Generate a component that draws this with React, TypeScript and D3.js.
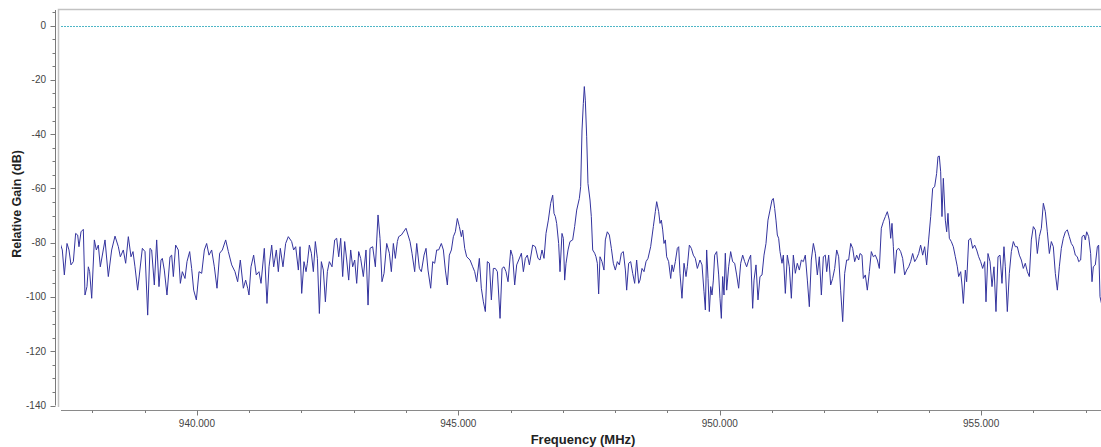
import React from 'react';
import * as d3 from 'd3';

type Pt = [number, number]; // [frequency MHz, relative gain dB]

const TRACE_937_940: Pt[] = [
  [937.381,-80.0],[937.425,-82.7],[937.464,-91.9],[937.515,-80.3],[937.553,-82.7],[937.591,-88.2],[937.636,-87.0],[937.680,-76.6],[937.719,-77.2],[937.744,-81.5],[937.783,-76.0],[937.827,-75.1],[937.859,-99.3],[937.897,-96.2],[937.923,-88.9],[937.948,-90.7],[937.987,-100.5],[938.038,-79.0],[938.076,-82.7],[938.114,-80.9],[938.152,-88.9],[938.242,-79.0],[938.305,-92.5],[938.369,-82.7],[938.433,-77.6],[938.497,-81.5],[938.535,-85.2],[938.592,-82.7],[938.637,-87.6],[938.688,-77.8],[938.739,-85.2],[938.777,-83.3],[938.815,-88.9],[938.866,-97.5],[938.956,-82.1],[939.007,-83.3],[939.058,-106.7],[939.102,-82.1],[939.134,-82.7],[939.185,-95.6],[939.230,-79.0],[939.274,-96.2],[939.313,-86.4],[939.338,-85.8],[939.376,-90.1],[939.427,-99.3],[939.485,-85.2],[939.517,-84.6],[939.549,-92.5],[939.593,-80.9],[939.644,-82.7],[939.683,-95.0],[939.721,-90.7],[939.772,-93.2],[939.810,-87.0],[939.861,-83.3],[939.899,-89.5],[939.938,-97.5],[939.989,-101.1]
];

const TRACE_940_942: Pt[] = [
  [940.040,-90.7],[940.091,-91.3],[940.142,-82.7],[940.186,-80.3],[940.231,-84.6],[940.282,-82.7],[940.333,-88.9],[940.384,-96.8],[940.435,-83.9],[940.486,-82.7],[940.550,-79.0],[940.601,-83.3],[940.665,-88.2],[940.728,-90.7],[940.779,-94.4],[940.830,-86.4],[940.888,-96.8],[940.932,-93.8],[940.971,-96.8],[940.996,-99.3],[941.034,-88.9],[941.085,-84.6],[941.136,-91.9],[941.187,-90.7],[941.226,-95.0],[941.289,-82.1],[941.340,-102.4],[941.379,-88.9],[941.430,-80.9],[941.468,-88.9],[941.519,-82.7],[941.557,-90.7],[941.595,-82.1],[941.646,-88.9],[941.697,-80.3],[941.748,-77.8],[941.812,-79.6],[941.850,-82.7],[941.889,-81.5],[941.940,-90.1],[941.972,-81.5]
];

const TRACE_942_946: Pt[] = [
  [942.004,-98.7],[942.048,-87.0],[942.087,-90.7],[942.112,-87.6],[942.150,-80.9],[942.189,-83.9],[942.227,-90.7],[942.265,-79.6],[942.304,-85.8],[942.342,-106.1],[942.380,-87.0],[942.418,-90.1],[942.457,-101.8],[942.495,-90.7],[942.533,-87.0],[942.584,-88.9],[942.635,-79.0],[942.673,-78.4],[942.712,-85.2],[942.750,-78.4],[942.788,-92.5],[942.826,-79.6],[942.865,-86.4],[942.903,-93.8],[942.941,-82.7],[942.979,-88.9],[943.018,-86.4],[943.056,-95.0],[943.094,-83.3],[943.132,-85.8],[943.183,-92.5],[943.234,-82.7],[943.273,-103.0],[943.311,-82.1],[943.362,-81.5],[943.413,-88.9],[943.464,-69.8],[943.502,-78.4],[943.540,-94.4],[943.579,-91.3],[943.630,-80.3],[943.681,-83.9],[943.719,-90.7],[943.757,-80.3],[943.795,-85.8],[943.834,-79.6],[943.859,-77.8],[943.910,-77.2],[943.999,-74.7],[944.076,-79.6],[944.114,-83.9],[944.165,-90.7],[944.204,-80.3],[944.255,-89.5],[944.293,-90.7],[944.344,-84.6],[944.382,-82.1],[944.420,-90.1],[944.471,-96.8],[944.510,-87.0],[944.548,-87.6],[944.586,-82.7],[944.624,-82.7],[944.675,-80.3],[944.714,-82.7],[944.752,-90.1],[944.790,-95.6],[944.828,-84.6],[944.867,-82.7],[944.905,-77.8],[944.943,-76.0],[944.981,-71.1],[945.020,-74.1],[945.058,-77.8],[945.083,-75.4],[945.122,-82.1],[945.160,-85.2],[945.224,-86.4],[945.275,-88.9],[945.313,-90.7],[945.351,-94.4],[945.402,-85.8],[945.440,-96.8],[945.479,-101.8],[945.517,-105.4],[945.555,-87.0],[945.594,-87.6],[945.632,-101.1],[945.670,-89.5],[945.708,-89.5],[945.747,-90.7],[945.798,-107.9],[945.836,-89.5],[945.874,-88.9],[945.912,-90.7],[945.951,-94.4],[946.002,-82.7],[946.040,-85.2],[946.078,-95.6],[946.116,-88.2],[946.155,-86.4],[946.206,-83.9],[946.244,-90.7],[946.282,-85.8],[946.320,-84.6],[946.359,-88.2]
];

const TRACE_946_948: Pt[] = [
  [946.422,-80.9],[946.473,-81.5],[946.524,-85.8],[946.562,-86.4],[946.601,-82.7],[946.639,-85.8],[946.677,-76.6],[946.722,-71.7],[946.766,-65.5],[946.805,-62.5],[946.830,-69.2],[946.856,-70.4],[946.881,-72.9],[946.919,-80.3],[946.945,-90.7],[946.983,-76.6],[947.009,-78.4],[947.034,-93.8],[947.060,-87.6],[947.098,-82.7],[947.136,-79.6],[947.187,-79.0],[947.225,-74.1],[947.264,-68.0],[947.315,-63.7],[947.340,-59.4],[947.366,-38.5],[947.391,-28.7],[947.410,-22.5],[947.429,-27.5],[947.455,-41.0],[947.480,-58.2],[947.519,-64.3],[947.544,-70.4],[947.570,-82.7],[947.608,-83.9],[947.633,-85.2],[947.659,-87.6],[947.684,-98.9],[947.710,-85.2],[947.748,-87.0],[947.786,-90.1],[947.812,-79.0],[947.850,-76.0],[947.889,-77.2],[947.927,-82.1],[947.965,-87.6],[948.003,-90.1],[948.042,-87.0],[948.080,-88.2],[948.118,-83.9],[948.156,-83.3],[948.195,-90.1],[948.220,-97.5],[948.258,-87.6],[948.297,-87.0],[948.335,-91.3],[948.373,-95.0],[948.411,-86.4],[948.450,-95.0]
];

const TRACE_948_952: Pt[] = [
  [948.475,-93.8],[948.513,-89.5],[948.552,-90.7],[948.590,-87.0],[948.628,-85.8],[948.679,-81.5],[948.730,-74.1],[948.768,-68.6],[948.794,-64.9],[948.832,-68.6],[948.858,-72.9],[948.883,-71.7],[948.909,-75.3],[948.934,-80.3],[948.960,-79.0],[948.985,-85.2],[949.023,-87.0],[949.062,-93.2],[949.087,-88.2],[949.113,-90.7],[949.151,-87.0],[949.189,-82.1],[949.215,-81.5],[949.240,-91.3],[949.278,-100.5],[949.317,-87.6],[949.355,-92.5],[949.380,-88.9],[949.419,-80.9],[949.457,-82.1],[949.495,-84.6],[949.533,-85.8],[949.572,-89.5],[949.623,-86.4],[949.661,-88.2],[949.699,-98.1],[949.725,-104.8],[949.750,-82.7],[949.776,-93.2],[949.801,-105.4],[949.827,-96.2],[949.852,-99.3],[949.878,-93.8],[949.903,-84.6],[949.942,-83.3],[949.980,-91.9],[950.005,-100.5],[950.031,-107.9],[950.056,-92.5],[950.082,-99.3],[950.107,-83.9],[950.133,-97.5],[950.171,-88.9],[950.209,-83.3],[950.247,-87.0],[950.286,-87.6],[950.324,-91.9],[950.362,-96.8],[950.401,-87.6],[950.439,-84.6],[950.477,-87.0],[950.515,-88.9],[950.554,-86.4],[950.592,-84.6],[950.630,-104.2],[950.656,-93.8],[950.694,-88.2],[950.732,-101.1],[950.770,-92.5],[950.809,-91.9],[950.847,-84.6],[950.885,-80.3],[950.923,-71.7],[950.962,-68.0],[951.000,-64.3],[951.025,-63.7],[951.051,-67.4],[951.076,-71.7],[951.102,-77.2],[951.127,-78.4],[951.153,-83.3],[951.191,-87.6],[951.217,-84.6],[951.255,-98.7],[951.293,-84.6],[951.331,-88.9],[951.370,-100.5],[951.408,-84.6],[951.446,-91.3],[951.484,-87.6],[951.523,-90.1],[951.561,-86.4],[951.599,-87.0],[951.637,-84.6],[951.676,-93.8],[951.714,-103.6],[951.752,-86.4],[951.791,-80.3],[951.829,-83.9],[951.867,-91.9],[951.905,-85.2],[951.944,-99.3],[951.982,-85.2],[952.020,-84.6],[952.046,-90.7],[952.084,-84.6],[952.122,-95.6],[952.160,-93.2],[952.199,-89.5],[952.237,-82.7],[952.275,-85.2],[952.313,-97.5],[952.352,-109.1],[952.390,-91.3],[952.428,-86.4],[952.466,-86.4],[952.505,-80.3],[952.543,-82.1],[952.581,-87.0],[952.619,-84.6],[952.658,-86.4]
];

const TRACE_952_958: Pt[] = [
  [952.683,-84.0],[952.721,-84.6],[952.747,-93.2],[952.785,-91.9],[952.823,-97.5],[952.862,-90.7],[952.900,-83.3],[952.938,-85.2],[952.976,-84.6],[953.015,-86.4],[953.053,-89.5],[953.091,-74.7],[953.129,-72.3],[953.168,-70.4],[953.206,-68.6],[953.244,-71.7],[953.270,-78.4],[953.295,-72.9],[953.321,-81.5],[953.346,-91.3],[953.384,-82.7],[953.423,-82.1],[953.461,-83.3],[953.499,-85.8],[953.537,-91.9],[953.576,-90.1],[953.614,-88.9],[953.652,-87.0],[953.690,-84.0],[953.729,-87.0],[953.767,-85.8],[953.805,-84.0],[953.843,-80.9],[953.882,-84.6],[953.920,-81.5],[953.958,-88.2],[953.996,-79.0],[954.035,-70.4],[954.073,-60.0],[954.111,-59.4],[954.149,-54.5],[954.175,-48.3],[954.200,-48.1],[954.226,-53.9],[954.251,-70.4],[954.277,-56.3],[954.315,-71.7],[954.341,-76.0],[954.366,-69.2],[954.392,-78.4],[954.430,-79.6],[954.468,-81.5],[954.507,-85.2],[954.545,-88.9],[954.570,-92.5],[954.609,-90.7],[954.634,-95.6],[954.660,-102.4],[954.698,-90.1],[954.723,-94.4],[954.762,-79.0],[954.800,-78.4],[954.838,-82.1],[954.876,-80.9],[954.915,-82.7],[954.953,-85.2],[954.991,-87.0],[955.029,-89.5],[955.068,-87.0],[955.093,-101.8],[955.131,-84.0],[955.170,-87.0],[955.208,-96.2],[955.246,-88.9],[955.284,-105.4],[955.323,-85.2],[955.361,-84.6],[955.399,-95.0],[955.437,-81.5],[955.463,-88.9],[955.501,-105.4],[955.539,-91.3],[955.578,-83.3],[955.616,-79.6],[955.654,-81.5],[955.692,-81.5],[955.731,-84.6],[955.769,-86.4],[955.807,-89.5],[955.845,-87.6],[955.884,-90.7],[955.922,-92.5],[955.960,-79.0],[955.999,-74.1],[956.037,-75.3],[956.075,-84.0],[956.113,-77.8],[956.152,-74.7],[956.190,-65.5],[956.228,-68.6],[956.266,-76.0],[956.305,-84.0],[956.343,-79.6],[956.381,-81.5],[956.419,-91.3],[956.458,-97.5],[956.496,-88.9],[956.534,-82.1],[956.572,-78.4],[956.611,-76.0],[956.649,-75.3],[956.687,-77.8],[956.725,-80.3],[956.764,-81.5],[956.802,-84.6],[956.840,-85.2],[956.866,-87.0],[956.904,-86.4],[956.930,-77.8],[956.968,-77.2],[956.993,-79.0],[957.019,-76.0],[957.057,-77.8],[957.095,-84.0],[957.121,-94.4],[957.146,-88.9],[957.184,-88.2],[957.223,-81.5],[957.248,-80.9],[957.274,-99.9],[957.320,-104.0]
];

const X_MAJOR_TICKS = [940, 945, 950, 955];
const X_MINOR_TICKS = [938, 939, 941, 942, 943, 944, 946, 947, 948, 949, 951, 952, 953, 954, 956, 957];
const Y_MAJOR_TICKS = [0, -20, -40, -60, -80, -100, -120, -140];
const Y_MINOR_TICKS = [5, -5, -10, -15, -25, -30, -35, -45, -50, -55, -65, -70, -75, -85, -90, -95, -105, -110, -115, -125, -130, -135];
const REFERENCE_LEVEL = 0;
const X_TITLE = 'Frequency (MHz)';
const Y_TITLE = 'Relative Gain (dB)';

const W = 1101;
const H = 447;
const FONT = "'Liberation Sans', Arial, sans-serif";

export default function App() {
  const x = d3.scaleLinear().domain([937.4, 957.4]).range([61, 1106.6]);
  const y = d3.scaleLinear().domain([-140, 0]).range([405.5, 25.5]);
  const data: Pt[] = [
    ...TRACE_937_940, ...TRACE_940_942, ...TRACE_942_946,
    ...TRACE_946_948, ...TRACE_948_952, ...TRACE_952_958,
  ];
  const line = d3.line<Pt>().x(d => x(d[0])).y(d => y(d[1]));
  const plotLeft = 61;
  const plotRight = W;
  const axisY = 410.5;
  const axisX = 55.5;

  return (
    <svg width={W} height={H} style={{ position: 'absolute', left: 0, top: 0, background: '#fff' }}>
      <defs>
        <clipPath id="plotClip">
          <rect x={plotLeft} y={9} width={plotRight - plotLeft} height={400} />
        </clipPath>
      </defs>
      <rect x={0} y={0} width={W} height={H} fill="#fff" />
      {/* plot frame (left + top edges) */}
      <path d={`M58.5,407 V9.5 H${W}`} fill="none" stroke="#c2c2c2" strokeWidth={1.5} />
      {/* reference 0 dB line */}
      <line x1={plotLeft} x2={plotRight} y1={Math.round(y(REFERENCE_LEVEL)) + 0.5} y2={Math.round(y(REFERENCE_LEVEL)) + 0.5}
        stroke="#4fb6c6" strokeWidth={1} strokeDasharray="2,1" />
      {/* trace */}
      <path d={line(data) || ''} fill="none" stroke="#34349e" strokeWidth={1} clipPath="url(#plotClip)" strokeLinejoin="round" />
      {/* Y axis */}
      <line x1={axisX} x2={axisX} y1={10} y2={y(-140)} stroke="#7a7a7a" strokeWidth={1} />
      {Y_MINOR_TICKS.map(t => (
        <line key={'ym' + t} x1={axisX - 3} x2={axisX} y1={Math.round(y(t)) + 0.5} y2={Math.round(y(t)) + 0.5} stroke="#7a7a7a" />
      ))}
      {Y_MAJOR_TICKS.map(t => (
        <g key={'yM' + t}>
          <line x1={axisX - 5} x2={axisX} y1={Math.round(y(t)) + 0.5} y2={Math.round(y(t)) + 0.5} stroke="#7a7a7a" />
          <text x={46} y={y(t)} dy="0.35em" textAnchor="end" fontFamily={FONT} fontSize={10} fill="#444">{String(t)}</text>
        </g>
      ))}
      {/* X axis */}
      <line x1={plotLeft} x2={plotRight} y1={axisY} y2={axisY} stroke="#8a8a8a" strokeWidth={1} />
      {X_MINOR_TICKS.map(t => (
        <line key={'xm' + t} x1={Math.round(x(t)) + 0.5} x2={Math.round(x(t)) + 0.5} y1={axisY} y2={axisY + 2.5} stroke="#7a7a7a" />
      ))}
      {X_MAJOR_TICKS.map(t => (
        <g key={'xM' + t}>
          <line x1={Math.round(x(t)) + 0.5} x2={Math.round(x(t)) + 0.5} y1={axisY} y2={axisY + 5} stroke="#7a7a7a" />
          <text x={x(t)} y={427} textAnchor="middle" fontFamily={FONT} fontSize={10} fill="#444">{d3.format('.3f')(t)}</text>
        </g>
      ))}
      {/* titles */}
      <text x={583} y={444} textAnchor="middle" fontFamily={FONT} fontSize={13} fontWeight="bold" fill="#222">{X_TITLE}</text>
      <text transform="translate(20.5,204) rotate(-90)" textAnchor="middle" fontFamily={FONT} fontSize={12.5} fontWeight="bold" fill="#222">{Y_TITLE}</text>
    </svg>
  );
}
